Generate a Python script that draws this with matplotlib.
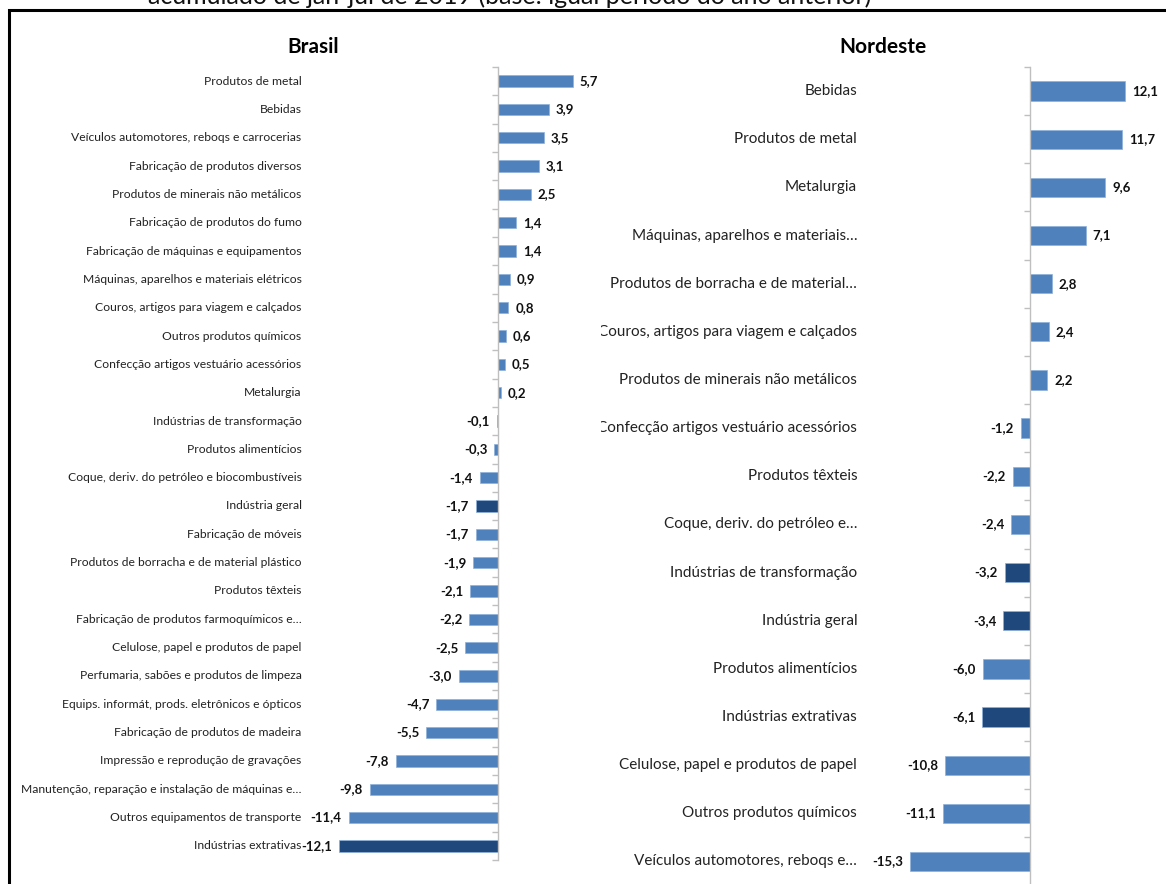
import matplotlib
matplotlib.use("Agg")
import matplotlib.pyplot as plt
import matplotlib.patches as mpatches
from matplotlib.transforms import Bbox, blended_transform_factory
import numpy as np

plt.rcParams['font.family'] = ['Lato', 'DejaVu Sans']

# dados
brasil_cats = [
    "Produtos de metal", "Bebidas", "Veículos automotores, reboqs e carrocerias",
    "Fabricação de produtos diversos", "Produtos de minerais não metálicos",
    "Fabricação de produtos do fumo", "Fabricação de máquinas e equipamentos",
    "Máquinas, aparelhos e materiais elétricos", "Couros, artigos para viagem e calçados",
    "Outros produtos químicos", "Confecção artigos vestuário acessórios", "Metalurgia",
    "Indústrias de transformação", "Produtos alimentícios",
    "Coque, deriv. do petróleo e biocombustíveis", "Indústria geral", "Fabricação de móveis",
    "Produtos de borracha e de material plástico", "Produtos têxteis",
    "Fabricação de produtos farmoquímicos e…", "Celulose, papel e produtos de papel",
    "Perfumaria, sabões e produtos de limpeza", "Equips. informát, prods. eletrônicos e ópticos",
    "Fabricação de produtos de madeira", "Impressão e reprodução de gravações",
    "Manutenção, reparação e instalação de máquinas e…", "Outros equipamentos de transporte",
    "Indústrias extrativas",
]
brasil_vals = [5.7, 3.9, 3.5, 3.1, 2.5, 1.4, 1.4, 0.9, 0.8, 0.6, 0.5, 0.2, -0.1, -0.3,
               -1.4, -1.7, -1.7, -1.9, -2.1, -2.2, -2.5, -3.0, -4.7, -5.5, -7.8, -9.8,
               -11.4, -12.1]
brasil_dark = ["Indústria geral", "Indústrias extrativas"]

nordeste_cats = [
    "Bebidas", "Produtos de metal", "Metalurgia", "Máquinas, aparelhos e materiais…",
    "Produtos de borracha e de material…", "Couros, artigos para viagem e calçados",
    "Produtos de minerais não metálicos", "Confecção artigos vestuário acessórios",
    "Produtos têxteis", "Coque, deriv. do petróleo e…", "Indústrias de transformação",
    "Indústria geral", "Produtos alimentícios", "Indústrias extrativas",
    "Celulose, papel e produtos de papel", "Outros produtos químicos",
    "Veículos automotores, reboqs e…",
]
nordeste_vals = [12.1, 11.7, 9.6, 7.1, 2.8, 2.4, 2.2, -1.2, -2.2, -2.4, -3.2, -3.4, -6.0,
                 -6.1, -10.8, -11.1, -15.3]
nordeste_dark = ["Indústrias de transformação", "Indústria geral", "Indústrias extrativas"]

LIGHT = "#4F81BD"
DARK = "#1F497D"
GREY = "#BFBFBF"

W, H = 1166, 884
fig = plt.figure(figsize=(W / 100, H / 100), dpi=100)


def px_axes(left, top, width, height):
    return fig.add_axes([left / W, 1 - (top + height) / H, width / W, height / H])


def panel(ax, cats, vals, dark, xlim, cat_size, val_size, label_gap, clip=None):
    n = len(cats)
    y = np.arange(n)
    colors = [DARK if c in dark else LIGHT for c in cats]
    ax.barh(y, vals, height=0.4, color=colors, edgecolor="#8DB0DA", linewidth=0.5, zorder=2)
    ax.set_xlim(*xlim)
    ax.set_ylim(n - 0.5, -0.5)
    for s in ["top", "right", "bottom"]:
        ax.spines[s].set_visible(False)
    ax.spines["left"].set_position(("data", 0))
    ax.spines["left"].set_color(GREY)
    ax.spines["left"].set_linewidth(1.0)
    ax.set_xticks([])
    ax.set_yticks(np.arange(n + 1) - 0.5)
    ax.tick_params(axis="y", length=4, width=1, color=GREY, direction="out", labelleft=False)
    trans = blended_transform_factory(ax.transAxes, ax.transData)
    for i, (c, v) in enumerate(zip(cats, vals)):
        t = ax.text(-label_gap / (ax.get_position().width * W), i, c, transform=trans,
                    ha="right", va="center", fontsize=cat_size, color="#222222")
        if clip is not None:
            t.set_clip_box(clip)
            t.set_clip_on(True)
        lab = f"{v:.1f}".replace(".", ",")
        ax.annotate(lab, (v, i), xytext=(5 if v >= 0 else -5, 0), textcoords="offset points",
                    ha="left" if v >= 0 else "right", va="center", fontsize=val_size,
                    fontweight="bold", color="#111111")


# Brasil: zero em x=498, 13.1 px por unidade
sc_b = 13.1
ax1 = px_axes(498 - 15 * sc_b, 67, 25 * sc_b, 793)
panel(ax1, brasil_cats, brasil_vals, brasil_dark, (-15, 10), 8.7, 9.5, 0)

# Nordeste: zero em x=1030, 7.85 px por unidade
sc_n = 7.85
ax2 = px_axes(1030 - 21 * sc_n, 67, 38 * sc_n, 17 * 48.15)
clip = Bbox.from_extents(601, 0, W, H)
panel(ax2, nordeste_cats, nordeste_vals, nordeste_dark, (-21, 17), 11, 9.5, 8, clip=clip)

fig.text(313 / W, 1 - 47 / H, "Brasil", ha="center", va="center", fontsize=15,
         fontweight="bold")
fig.text(883 / W, 1 - 47 / H, "Nordeste", ha="center", va="center", fontsize=15,
         fontweight="bold")

# título cortado no topo
fig.text(510 / W, 1 - 4 / H, "acumulado de jan-jul de 2019 (base: igual período do ano anterior)",
         ha="center", va="baseline", fontsize=18, color="#111111")

# moldura
fig.add_artist(mpatches.Rectangle((9 / W, -0.05), 1.1, 1.05 - 10 / H, transform=fig.transFigure,
                                  fill=False, edgecolor="black", linewidth=2.2, clip_on=False))

fig.savefig("out.png", dpi=100)
